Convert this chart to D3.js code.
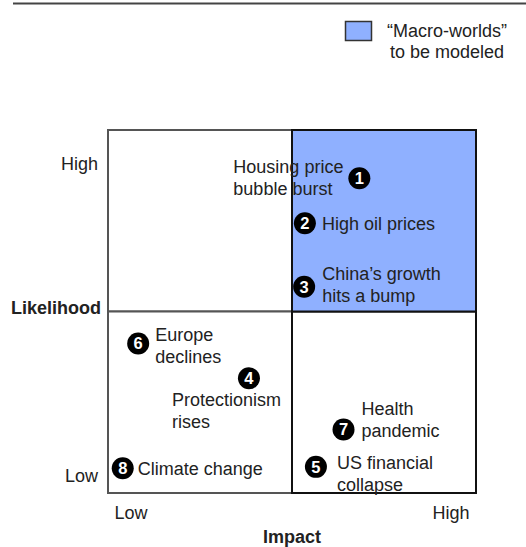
<!DOCTYPE html>
<html>
<head>
<meta charset="utf-8">
<script src="https://cdn.jsdelivr.net/npm/d3@7"></script>
<style>
  html, body { margin: 0; padding: 0; background: #fff; }
  svg { display: block; font-family: "Liberation Sans", Arial, sans-serif; }
</style>
</head>
<body>
<svg id="chart" width="526" height="547"></svg>
<script>
// ---- data ----
const riskIds = [1, 2, 3, 4, 5, 6, 7, 8];
const riskLabels = [
  ["Housing price", "bubble burst"],
  ["High oil prices"],
  ["China\u2019s growth", "hits a bump"],
  ["Protectionism", "rises"],
  ["US financial", "collapse"],
  ["Europe", "declines"],
  ["Health", "pandemic"],
  ["Climate change"]
];
const impactValues = [6.83, 5.35, 5.33, 3.83, 5.65, 0.82, 6.40, 0.40];
const likelihoodValues = [8.67, 7.43, 5.68, 3.16, 0.72, 4.12, 1.75, 0.68];
const impactTicks = ["Low", "High"];
const likelihoodTicks = ["High", "Low"];
const legendLabel = ["\u201cMacro-worlds\u201d", "to be modeled"];

// ---- layout (label placement relative to marker) ----
const labelOffsets = [
  [-126, -5], [17, 7], [18, -7], [-77, 28], [21, 2], [17, -2], [18, -14], [15, 7]
];

const svg = d3.select("#chart");
const x = d3.scaleLinear().domain([0, 10]).range([108, 476]);
const y = d3.scaleLinear().domain([0, 10]).range([493, 130]);
const textColor = "#222";
const fs = 18;

// top rule
svg.append("line").attr("x1", 13).attr("x2", 526).attr("y1", 3.5).attr("y2", 3.5)
  .attr("stroke", "#444").attr("stroke-width", 2);

// legend
svg.append("rect").attr("x", 345.5).attr("y", 21.5).attr("width", 26).attr("height", 19)
  .attr("fill", "#8fb0ff").attr("stroke", "#333").attr("stroke-width", 1.5);
svg.append("text").attr("x", 447).attr("y", 37).attr("text-anchor", "middle")
  .attr("font-size", fs).attr("fill", textColor)
  .selectAll("tspan").data(legendLabel).join("tspan")
  .attr("x", 447).attr("dy", (d, i) => i === 0 ? 0 : 21).text(d => d);

// quadrants
const quads = [
  {x0: 0, x1: 5, y0: 5, y1: 10, fill: "#fff", stroke: "#555"},
  {x0: 0, x1: 5, y0: 0, y1: 5, fill: "#fff", stroke: "#555"},
  {x0: 5, x1: 10, y0: 0, y1: 5, fill: "#fff", stroke: "#111"},
  {x0: 5, x1: 10, y0: 5, y1: 10, fill: "#8fb0ff", stroke: "#111"}
];
svg.append("g").selectAll("rect").data(quads).join("rect")
  .attr("x", d => x(d.x0)).attr("y", d => y(d.y1))
  .attr("width", d => x(d.x1) - x(d.x0)).attr("height", d => y(d.y0) - y(d.y1))
  .attr("fill", d => d.fill).attr("stroke", d => d.stroke).attr("stroke-width", 2);

// axes
const xAxis = d3.axisBottom(x).tickValues([0, 10]).tickSize(0)
  .tickFormat((d, i) => impactTicks[i]);
const gx = svg.append("g").attr("transform", `translate(0,${y(0)})`).call(xAxis);
gx.select(".domain").remove();
gx.selectAll("text").attr("font-size", fs).attr("fill", textColor)
  .attr("font-family", "Liberation Sans, Arial, sans-serif")
  .attr("dy", 0).attr("y", 26)
  .attr("text-anchor", (d, i) => i === 0 ? "start" : "end")
  .attr("dx", (d, i) => i === 0 ? 6 : -7);

const yAxis = d3.axisLeft(y).tickValues([9.1, 0.5]).tickSize(0)
  .tickFormat((d, i) => likelihoodTicks[i]);
const gy = svg.append("g").attr("transform", `translate(${x(0)},0)`).call(yAxis);
gy.select(".domain").remove();
gy.selectAll("text").attr("font-size", fs).attr("fill", textColor)
  .attr("font-family", "Liberation Sans, Arial, sans-serif")
  .attr("x", -10).attr("dy", "0.36em");

svg.append("text").attr("x", x(5)).attr("y", 543).attr("text-anchor", "middle")
  .attr("font-size", fs).attr("font-weight", "bold").attr("fill", textColor).text("Impact");
svg.append("text").attr("x", 101).attr("y", 314).attr("text-anchor", "end")
  .attr("font-size", fs).attr("font-weight", "bold").attr("fill", textColor).text("Likelihood");

// points
const pts = riskIds.map((id, i) => ({id, label: riskLabels[i], ix: impactValues[i], ly: likelihoodValues[i], off: labelOffsets[i]}));
const g = svg.append("g").selectAll("g").data(pts).join("g")
  .attr("transform", d => `translate(${x(d.ix)},${y(d.ly)})`);
g.append("circle").attr("r", 11).attr("fill", "#000");
g.append("text").attr("text-anchor", "middle").attr("dy", "0.36em")
  .attr("font-size", 16.5).attr("font-weight", "bold").attr("fill", "#fff").text(d => d.id);
g.append("text").attr("font-size", fs).attr("fill", textColor)
  .attr("x", d => d.off[0]).attr("y", d => d.off[1])
  .selectAll("tspan").data(d => d.label.map(t => ({t, dx: d.off[0]}))).join("tspan")
  .attr("x", d => d.dx).attr("dy", (d, i) => i === 0 ? 0 : 22).text(d => d.t);
</script>
</body>
</html>
